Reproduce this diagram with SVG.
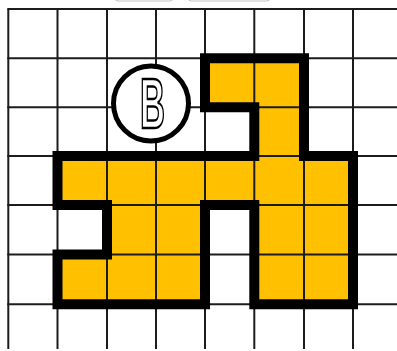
<svg xmlns="http://www.w3.org/2000/svg" width="397" height="351" viewBox="0 0 397 351">
  <style>
    .grid line { stroke: #1c1c1c; stroke-width: 2; }
    .tab { fill: #ffffff; stroke: #c4c4c4; stroke-width: 1; }
    .fill { fill: #FFC000; stroke: none; }
    .outline { fill: none; stroke: #000000; stroke-width: 10; stroke-linejoin: miter; stroke-linecap: square; }
    .marker circle { fill: #ffffff; stroke: #000000; stroke-width: 5; }
    .marker text { font-family: "Liberation Sans", Arial, sans-serif; font-weight: bold; font-size: 70px; fill: #ffffff; stroke: #000000; stroke-width: 2.5; }
  </style>
  <rect x="0" y="0" width="397" height="351" fill="#ffffff"/>
  <g id="top-tabs">
    <rect class="tab" x="115" y="-10" width="58" height="11" rx="3"/>
    <rect class="tab" x="188" y="-10" width="82" height="11" rx="3"/>
  </g>
  <g id="shape-fill">
    <path class="fill" d="M205 58.3 H304 V156 H353 V304.3 H254.3 V205 H205 V304.3 H57.5 V254.5 H107 V205 H57.5 V156 H254.3 V107.3 H205 Z"/>
  </g>
  <g id="grid" class="grid">
    <line x1="8.3" y1="9" x2="8.3" y2="349"/>
    <line x1="57.5" y1="9" x2="57.5" y2="349"/>
    <line x1="107" y1="9" x2="107" y2="349"/>
    <line x1="156" y1="9" x2="156" y2="349"/>
    <line x1="205" y1="9" x2="205" y2="349"/>
    <line x1="254.3" y1="9" x2="254.3" y2="349"/>
    <line x1="304" y1="9" x2="304" y2="349"/>
    <line x1="353" y1="9" x2="353" y2="349"/>
    <line x1="7.3" y1="9" x2="397" y2="9"/>
    <line x1="7.3" y1="58.3" x2="397" y2="58.3"/>
    <line x1="7.3" y1="107.3" x2="397" y2="107.3"/>
    <line x1="7.3" y1="156" x2="397" y2="156"/>
    <line x1="7.3" y1="205" x2="397" y2="205"/>
    <line x1="7.3" y1="254.5" x2="397" y2="254.5"/>
    <line x1="7.3" y1="304.3" x2="397" y2="304.3"/>
  </g>
  <g id="shape-outline">
    <path class="outline" d="M205 58.3 H304 V156 H353 V304.3 H254.3 V205 H205 V304.3 H57.5 V254.5 H107 V205 H57.5 V156 H254.3 V107.3 H205 Z"/>
  </g>
  <g id="marker-B" class="marker">
    <circle cx="151" cy="103.5" r="37.5"/>
    <text x="152.5" y="127.5" text-anchor="middle" textLength="25" lengthAdjust="spacingAndGlyphs">B</text>
  </g>
</svg>
